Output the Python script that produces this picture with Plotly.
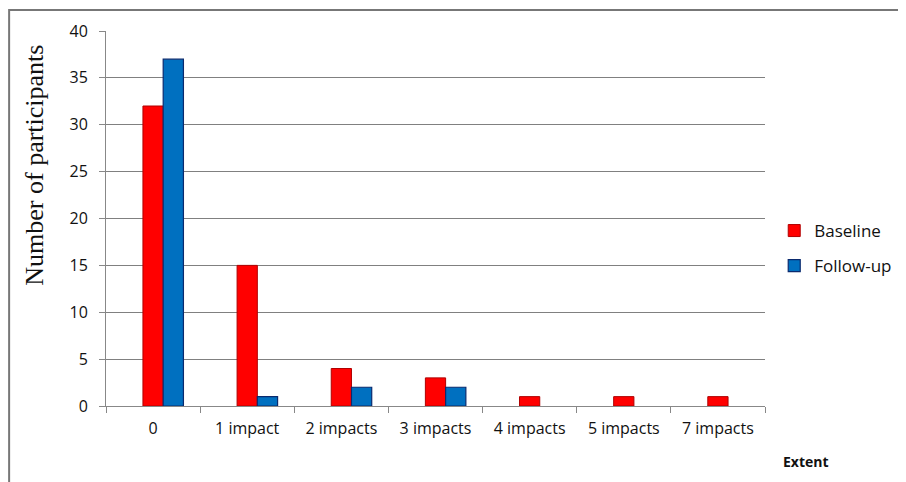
import plotly.graph_objects as go

categories = ["0", "1 impact", "2 impacts", "3 impacts", "4 impacts", "5 impacts", "7 impacts"]
baseline = [32, 15, 4, 3, 1, 1, 1]
followup = [37, 1, 2, 2, 0, 0, 0]
y_ticks = [0, 5, 10, 15, 20, 25, 30, 35, 40]

BW = 0.215

fig = go.Figure()
fig.add_trace(go.Bar(name="Baseline", x=categories, y=baseline, legendgroup="a",
                     width=BW, offset=-BW / 2,
                     marker=dict(color="#FF0000",
                                 line=dict(color="#B00000", width=[1 if v > 0 else 0 for v in baseline]))))
fig.add_trace(go.Bar(name="Follow-up", x=categories, y=followup, legendgroup="b",
                     width=BW, offset=BW / 2,
                     marker=dict(color="#0070C0",
                                 line=dict(color="#0A2A6E", width=[1.2 if v > 0 else 0 for v in followup]))))

fig.update_layout(
    width=906, height=482,
    margin=dict(l=98, r=149, t=23, b=84),
    paper_bgcolor="white", plot_bgcolor="white",
    barmode="overlay",
    font=dict(family="Open Sans", size=14, color="#111"),
    legend=dict(x=1.014, y=0.42, yanchor="middle", xanchor="left",
                font=dict(family="Open Sans", size=17, color="#111"),
                traceorder="grouped", tracegroupgap=10, itemwidth=30),
    xaxis=dict(type="category", showgrid=False, showline=True, linecolor="#888", linewidth=1,
               ticks="outside", tickson="boundaries", ticklen=6, tickcolor="#888",
               ticklabelstandoff=8,
               tickfont=dict(family="Open Sans", size=16, color="#111")),
    yaxis=dict(range=[0, 40], tickvals=y_ticks, showgrid=True, gridcolor="#808080", gridwidth=1.2,
               showline=True, linecolor="#888", linewidth=1, ticks="outside", ticklen=6,
               tickcolor="#888", zeroline=False, ticklabelstandoff=8,
               tickfont=dict(family="Open Sans", size=16, color="#111")),
    annotations=[dict(text="<b>Extent</b>", xref="paper", yref="paper", x=1.025, y=-0.147,
                      xanchor="left", yanchor="middle", showarrow=False,
                      font=dict(family="Open Sans", size=14, color="#111")),
                 dict(text="Number of participants", xref="paper", yref="paper", x=-0.108, y=0.643,
                      xanchor="center", yanchor="middle", textangle=-90, showarrow=False,
                      font=dict(family="Liberation Serif", size=26, color="#111"))],
    shapes=[dict(type="rect", xref="paper", yref="paper", x0=-0.147, y0=-0.3, x1=1.4, y1=1.056,
                 line=dict(color="#777", width=2), layer="below")],
)

fig.write_html("out.html")
